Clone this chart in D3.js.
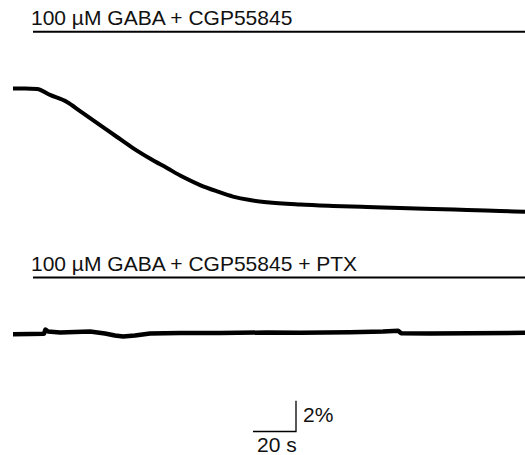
<!DOCTYPE html>
<html>
<head>
<meta charset="utf-8">
<script src="https://cdn.jsdelivr.net/npm/d3@7"></script>
<style>
  html, body { margin: 0; padding: 0; background: #fff; }
  svg { display: block; }
  text { font-family: "Liberation Sans", Arial, sans-serif; fill: #111; }
</style>
</head>
<body>
<svg id="chart" width="525" height="455"></svg>
<script>
// ---- Data (time in s, ΔF in %) ----
const labels = ["100 µM GABA + CGP55845", "100 µM GABA + CGP55845 + PTX"];
const applicationStart = 9.3;   // s
const applicationEnd = 238.1;   // s

const trace1Time = [0, 5.6, 11.2, 17.2, 25.1, 31.2, 40.5, 48.4, 55.8, 63.7, 71.6, 79.1, 87.0, 94.9, 102.3, 110.2, 118.1, 133.5, 148.8, 164.7, 180.0, 195.3, 211.2, 226.5, 238.1];
const trace1Value = [0, 0, -0.03, -0.42, -0.88, -1.47, -2.38, -3.16, -3.88, -4.56, -5.18, -5.77, -6.29, -6.70, -7.04, -7.27, -7.41, -7.56, -7.65, -7.72, -7.78, -7.85, -7.91, -7.98, -8.03];

const trace2Time = [0, 7.9, 14.4, 15.1, 16.3, 21.9, 28.8, 35.8, 42.8, 47.4, 51.2, 56.7, 63.7, 77.7, 96.3, 118.1, 133.5, 156.7, 172.1, 179.1, 180.5, 194.0, 212.6, 238.1];
const trace2Value = [0, 0.02, 0.03, 0.31, 0.18, 0.12, 0.15, 0.18, 0.05, -0.08, -0.14, -0.08, 0.05, 0.08, 0.08, 0.12, 0.10, 0.13, 0.18, 0.23, 0.07, 0.05, 0.07, 0.10];

const scaleTime = 20;     // s
const scaleValue = 2;     // %
const scaleTimeLabel = "20 s";
const scaleValueLabel = "2%";

// ---- Layout ----
const svg = d3.select("#chart");
const x = d3.scaleLinear().domain([0, 238.1]).range([13, 525]);
const pxPerPercent = 15.35;
const y = d3.scaleLinear().domain([0, 1]).range([0, -pxPerPercent]);

const panels = [
  { label: labels[0], labelY: 24.5, barY: 31.7, traceY: 88.5, t: trace1Time, v: trace1Value, curve: d3.curveMonotoneX, sw: 4 },
  { label: labels[1], labelY: 270.5, barY: 277.5, traceY: 334.3, t: trace2Time, v: trace2Value, curve: d3.curveLinear, sw: 4.5 }
];

panels.forEach(p => {
  svg.append("text")
    .attr("x", 31).attr("y", p.labelY)
    .attr("font-size", 21)
    .text(p.label);
  svg.append("line")
    .attr("x1", x(applicationStart)).attr("x2", x(applicationEnd))
    .attr("y1", p.barY).attr("y2", p.barY)
    .attr("stroke", "#000").attr("stroke-width", 2);
  const pts = p.t.map((t, i) => [t, p.v[i]]);
  const g = svg.append("g").attr("transform", `translate(0,${p.traceY})`);
  g.append("path")
    .datum(pts)
    .attr("fill", "none")
    .attr("stroke", "#000")
    .attr("stroke-width", p.sw)
    .attr("stroke-linejoin", "round")
    .attr("d", d3.line().x(d => x(d[0])).y(d => y(d[1])).curve(p.curve));
});

// ---- Scale bar ----
const sbX = 296, sbY = 431.5;
const sbW = x(scaleTime) - x(0);
const sbH = pxPerPercent * scaleValue;
svg.append("path")
  .attr("fill", "none").attr("stroke", "#000").attr("stroke-width", 1.3)
  .attr("d", `M${sbX - sbW},${sbY}H${sbX}V${sbY - sbH}`);
svg.append("text").attr("x", sbX + 7).attr("y", 422).attr("font-size", 21).text(scaleValueLabel);
svg.append("text").attr("x", 257).attr("y", 451.5).attr("font-size", 21).text(scaleTimeLabel);
</script>
</body>
</html>
